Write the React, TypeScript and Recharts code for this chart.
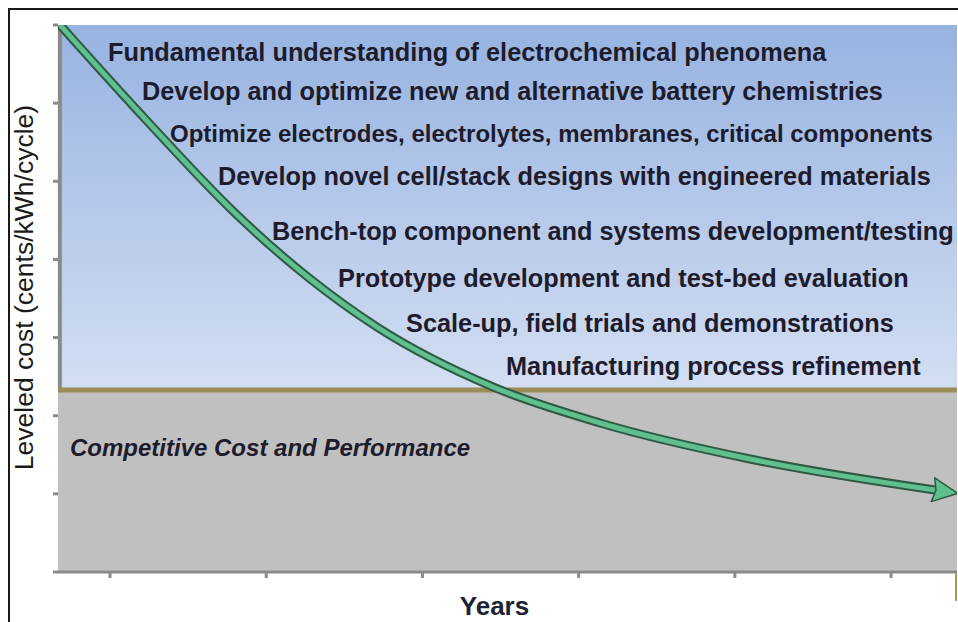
import { ComposedChart, Line, XAxis, YAxis, ReferenceArea, ReferenceLine, ReferenceDot } from 'recharts'

// cost curve (x in "year" units, y in axis units)
const years = [0.68, 1.243, 1.8, 2.274, 2.709, 3.452, 4.137, 5.097, 6.281]
const costs = [7.0, 5.759, 4.594, 3.762, 3.135, 2.368, 1.907, 1.446, 1.049]

const xTicks = [1, 2, 3, 4, 5, 6]
const yTicks = [0, 1, 2, 3, 4, 5, 6, 7]

// level of competitive cost (olive line)
const competitiveLevel = 2.33

const stages = [
  'Fundamental understanding of electrochemical phenomena',
  'Develop and optimize new and alternative battery chemistries',
  'Optimize electrodes, electrolytes, membranes, critical components',
  'Develop novel cell/stack designs with engineered materials',
  'Bench-top component and systems development/testing',
  'Prototype development and test-bed evaluation',
  'Scale-up, field trials and demonstrations',
  'Manufacturing process refinement',
]
// where each stage label starts (left end of baseline)
const stageX = [0.987, 1.205, 1.384, 1.691, 2.037, 2.46, 2.895, 3.535]
const stageY = [6.54, 6.04, 5.5, 4.95, 4.25, 3.65, 3.07, 2.52]

const zoneLabel = 'Competitive Cost and Performance'
const zoneX = 0.744
const zoneY = 1.485

const xTitle = 'Years'
const yTitle = 'Leveled cost (cents/kWh/cycle)'

const X_DOMAIN: [number, number] = [0.667, 6.422]
const Y_DOMAIN: [number, number] = [0, 7]

const AXIS_GRAY = '#8a8a8a'
const OLIVE = '#9b8d58'
const GREEN = '#5fbf8e'
const GREEN_DARK = '#2e5a44'
const TEXT = '#1e1c2c'
const FONT = '"Liberation Sans", Arial, sans-serif'

const data = years.map((year, i) => ({ year, cost: costs[i] }))

const noTick = () => <g />

function stageLabel(text: string, size: number) {
  return (props: any) => {
    const vb = props.viewBox || {}
    return (
      <text x={vb.x} y={vb.y} fontSize={size} fontWeight="bold" fill={TEXT} fontFamily={FONT}>
        {text}
      </text>
    )
  }
}

const renderYTitle = (props: any) => {
  const vb = props.viewBox
  const cx = vb.x + 33
  const cy = vb.y + vb.height / 2 - 11
  return (
    <text x={cx} y={cy} transform={`rotate(-90 ${cx} ${cy})`} textAnchor="middle" fontSize={26.5} fill="#1a1a1a" fontFamily={FONT}>
      {yTitle}
    </text>
  )
}

const renderXTitle = (props: any) => {
  const vb = props.viewBox
  return (
    <text x={vb.x + vb.width / 2 - 13} y={vb.y + 43} textAnchor="middle" fontSize={26} fontWeight="bold" fill="#1c2333" fontFamily={FONT}>
      {xTitle}
    </text>
  )
}

export default function App() {
  return (
    <div style={{ position: 'fixed', left: 0, top: 0, width: 958, height: 622, overflow: 'hidden', background: '#fff' }}>
      <ComposedChart width={958} height={622} data={data} margin={{ top: 25, right: 1, left: 0, bottom: 0 }} style={{ fontFamily: FONT }}>
        <defs>
          <linearGradient id="sky" x1="0" y1="0" x2="0" y2="1">
            <stop offset="0%" stopColor="#97b3e1" />
            <stop offset="100%" stopColor="#d3def2" />
          </linearGradient>
          <marker id="arrowHead" markerUnits="userSpaceOnUse" viewBox="0 0 28 26" markerWidth={28} markerHeight={26} refX={3} refY={13} orient="auto">
            <path d="M1,1 L26,13 L1,25 L4,13 Z" fill={GREEN} stroke={GREEN_DARK} strokeWidth={1.5} strokeLinejoin="round" />
          </marker>
        </defs>
        <XAxis
          type="number"
          dataKey="year"
          domain={X_DOMAIN}
          ticks={xTicks}
          allowDataOverflow
          height={50}
          axisLine={{ stroke: AXIS_GRAY, strokeWidth: 3 }}
          tickLine={{ stroke: AXIS_GRAY, strokeWidth: 3 }}
          tickSize={6}
          tick={noTick}
          label={{ content: renderXTitle }}
        />
        <YAxis
          type="number"
          domain={Y_DOMAIN}
          ticks={yTicks}
          allowDataOverflow
          width={58}
          axisLine={false}
          tickLine={{ stroke: AXIS_GRAY, strokeWidth: 3 }}
          tickSize={5}
          tick={noTick}
          label={{ content: renderYTitle }}
        />
        <ReferenceArea x1={X_DOMAIN[0]} x2={X_DOMAIN[1]} y1={competitiveLevel} y2={Y_DOMAIN[1]} fill="url(#sky)" fillOpacity={1} stroke="none" />
        <ReferenceArea x1={X_DOMAIN[0]} x2={X_DOMAIN[1]} y1={Y_DOMAIN[0]} y2={competitiveLevel} fill="#c0c0c0" fillOpacity={1} stroke="none" />
        <ReferenceLine
          segment={[{ x: X_DOMAIN[0] + 0.012, y: competitiveLevel }, { x: X_DOMAIN[0] + 0.012, y: Y_DOMAIN[1] }]}
          stroke={AXIS_GRAY}
          strokeWidth={4}
        />
        <ReferenceLine y={competitiveLevel} stroke={OLIVE} strokeWidth={5} />
        {stages.map((s, i) => (
          <ReferenceDot
            key={s}
            x={stageX[i]}
            y={stageY[i]}
            r={0}
            fill="none"
            stroke="none"
            label={stageLabel(s, i === 2 ? 24 : 25.3)}
          />
        ))}
        <ReferenceDot
          x={zoneX}
          y={zoneY}
          r={0}
          fill="none"
          stroke="none"
          label={(props: any) => (
            <text x={props.viewBox.x} y={props.viewBox.y} fontSize={24} fontWeight="bold" fontStyle="italic" fill={TEXT} fontFamily={FONT}>
              {zoneLabel}
            </text>
          )}
        />
        <Line type="monotone" dataKey="cost" stroke={GREEN_DARK} strokeWidth={9} dot={false} activeDot={false} isAnimationActive={false} />
        <Line type="monotone" dataKey="cost" stroke={GREEN} strokeWidth={5} dot={false} activeDot={false} isAnimationActive={false} markerEnd="url(#arrowHead)" />
      </ComposedChart>
      <div style={{ position: 'absolute', left: 8, top: 8, width: 980, height: 640, border: '2px solid #1a1a1a', boxSizing: 'border-box' }} />
      <div style={{ position: 'absolute', left: 955, top: 573, width: 2, height: 28, background: '#a39a5c' }} />
    </div>
  )
}
